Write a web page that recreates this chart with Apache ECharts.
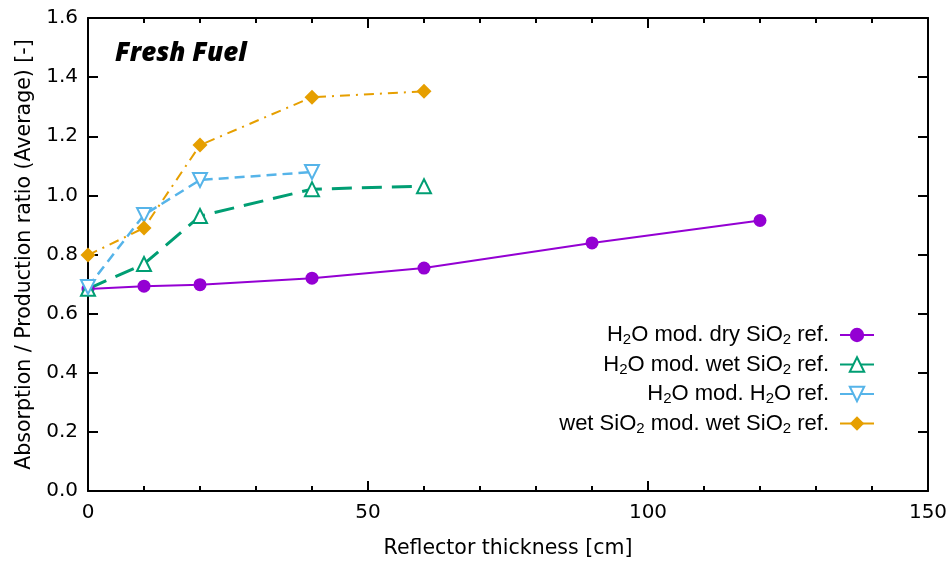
<!DOCTYPE html>
<html>
<head>
<meta charset="utf-8">
<script src="https://cdn.jsdelivr.net/npm/echarts@6/dist/echarts.min.js"></script>
<style>
  html, body { margin: 0; padding: 0; background: #fff; }
  #chart { width: 952px; height: 565px; }
</style>
</head>
<body>
<div id="chart"></div>
<script>
// data
var thickDry = [0, 10, 20, 40, 60, 90, 120];
var ratioDry = [0.683, 0.693, 0.698, 0.72, 0.754, 0.839, 0.915];
var thickWet = [0, 10, 20, 40, 60];
var ratioWet = [0.684, 0.768, 0.93, 1.021, 1.031];
var thickH2O = [0, 10, 20, 40];
var ratioH2O = [0.69, 0.934, 1.052, 1.079];
var thickSiO2 = [0, 10, 20, 40, 60];
var ratioSiO2 = [0.798, 0.89, 1.17, 1.332, 1.352];
var seriesNames = [
  '{n|H}{s|2}{n|O mod. dry SiO}{s|2}{n| ref.}{g|}',
  '{n|H}{s|2}{n|O mod. wet SiO}{s|2}{n| ref.}{g|}',
  '{n|H}{s|2}{n|O mod. H}{s|2}{n|O ref.}{g|}',
  '{n|wet SiO}{s|2}{n| mod. wet SiO}{s|2}{n| ref.}{g|}'
];
var xTicks = [0, 50, 100, 150];

var font = "'DejaVu Sans', sans-serif";
var legendFont = "'Liberation Sans', Arial, sans-serif";

function pairs(xs, ys) {
  var out = [];
  for (var i = 0; i < xs.length; i++) out.push([xs[i], ys[i]]);
  return out;
}

var chart = echarts.init(document.getElementById('chart'));

var baseX = {
  type: 'value', min: xTicks[0], max: xTicks[xTicks.length - 1], interval: 50,
  axisLine: { show: true, onZero: false, lineStyle: { color: '#000', width: 2 } },
  axisTick: { show: true, inside: true, length: 10, lineStyle: { color: '#000', width: 2 } },
  minorTick: { show: true, splitNumber: 5, length: 5, lineStyle: { color: '#000', width: 2 } },
  splitLine: { show: false }
};
var baseY = {
  type: 'value', min: 0, max: 1.6, interval: 0.2,
  axisLine: { show: true, onZero: false, lineStyle: { color: '#000', width: 2 } },
  axisTick: { show: true, inside: true, length: 10, lineStyle: { color: '#000', width: 2 } },
  splitLine: { show: false }
};

var option = {
  backgroundColor: '#fff',
  animation: false,
  title: {
    text: 'Fresh Fuel', left: 110, top: 36,
    textStyle: { fontFamily: "'Open Sans', sans-serif", fontStyle: 'italic', fontWeight: 800, fontSize: 26, color: '#000' }
  },
  grid: { left: 88, right: 24, top: 18, bottom: 74 },
  legend: {
    orient: 'vertical', right: 77, top: 324, align: 'right',
    itemWidth: 34, itemHeight: 18, itemGap: 6, padding: 0,
    lineStyle: { type: 'solid' },
    textStyle: {
      color: '#000', fontFamily: legendFont, fontSize: 22,
      rich: {
        n: { fontSize: 22, fontFamily: legendFont, color: '#000' },
        s: { fontSize: 15, fontFamily: legendFont, color: '#000', padding: [10, 0, 0, 0] },
        g: { width: 6 }
      }
    },
    data: seriesNames
  },
  xAxis: [
    Object.assign({}, baseX, {
      position: 'bottom', name: 'Reflector thickness [cm]', nameLocation: 'middle', nameGap: 47,
      nameTextStyle: { fontFamily: font, fontSize: 20.5, color: '#000' },
      axisLabel: { fontFamily: font, fontSize: 20, color: '#000', margin: 12 }
    }),
    Object.assign({}, baseX, { position: 'top', axisLabel: { show: false } })
  ],
  yAxis: [
    Object.assign({}, baseY, {
      position: 'left', name: 'Absorption / Production ratio (Average) [-]', nameLocation: 'middle', nameGap: 53,
      nameTextStyle: { fontFamily: font, fontSize: 20.5, color: '#000' },
      axisLabel: { fontFamily: font, fontSize: 20, color: '#000', margin: 10, formatter: function (v) { return v.toFixed(1); } }
    }),
    Object.assign({}, baseY, { position: 'right', axisLabel: { show: false } })
  ],
  series: [
    {
      name: seriesNames[0], type: 'line', data: pairs(thickDry, ratioDry),
      symbol: 'circle', symbolSize: 13,
      lineStyle: { color: '#9400d3', width: 2 },
      itemStyle: { color: '#9400d3' }
    },
    {
      name: seriesNames[1], type: 'line', data: pairs(thickWet, ratioWet),
      symbol: 'triangle', symbolSize: 14,
      lineStyle: { color: '#009e73', width: 3, type: [20, 10] },
      itemStyle: { color: '#fff', borderColor: '#009e73', borderWidth: 2 }
    },
    {
      name: seriesNames[2], type: 'line', data: pairs(thickH2O, ratioH2O),
      symbol: 'triangle', symbolRotate: 180, symbolSize: 14,
      lineStyle: { color: '#56b4e9', width: 2.5, type: [10, 6] },
      itemStyle: { color: '#fff', borderColor: '#56b4e9', borderWidth: 2 }
    },
    {
      name: seriesNames[3], type: 'line', data: pairs(thickSiO2, ratioSiO2),
      symbol: 'diamond', symbolSize: 15,
      lineStyle: { color: '#e69f00', width: 2, type: [10, 6, 2, 6] },
      itemStyle: { color: '#e69f00' }
    }
  ]
};

chart.setOption(option);
</script>
</body>
</html>
